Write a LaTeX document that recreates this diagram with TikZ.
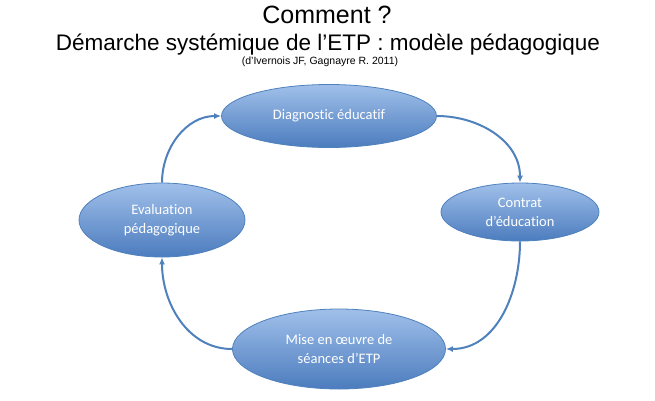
\documentclass[tikz,border=0pt]{standalone}
\usepackage{fontspec}
\setmainfont{Liberation Sans}
\newfontfamily\calibri[Ligatures=CommonOff]{Carlito}
\usetikzlibrary{shapes.geometric,arrows.meta}
\definecolor{etptop}{RGB}{160,192,234}
\definecolor{etpbot}{RGB}{76,124,190}
\definecolor{etpline}{RGB}{79,129,189}

\begin{document}
\begin{tikzpicture}[x=1pt,y=-1pt,>={Latex[length=7pt,width=6pt]},
  etape/.style={ellipse,inner sep=0pt,draw=etpline,line width=0.8pt,
    top color=etptop,bottom color=etpbot,text=white,align=center,
    font=\calibri\fontsize{14.5}{19}\selectfont},
  lien/.style={->,draw=etpline,line width=2pt}]
\useasboundingbox[fill=white] (0,0) rectangle (655,400);
\node (titre) [anchor=base,font=\fontsize{25}{30}\selectfont] at (327,23) {Comment ?};
\node (sous) [anchor=base,font=\fontsize{22.5}{27}\selectfont] at (328,50) {Démarche systémique de l’ETP : modèle pédagogique};
\node (ref) [anchor=base,font=\fontsize{10.5}{12}\selectfont] at (320,64) {(d’Ivernois JF, Gagnayre R. 2011)};
\node (diag) [etape,minimum width=215,minimum height=63] at (329,116) {Diagnostic éducatif};
\node (contrat) [etape,minimum width=158,minimum height=58] at (520,212) {Contrat\\d’éducation};
\node (mise) [etape,minimum width=213,minimum height=80] at (339,349) {Mise en œuvre de\\séances d’ETP};
\node (eval) [etape,minimum width=166,minimum height=74] at (162,220) {Evaluation\\pédagogique};
\draw[lien] (diag.east) to[out=0,in=90] (contrat.north);
\draw[lien] (contrat.south) to[out=-90,in=0] (mise.east);
\draw[lien] (mise.west) to[out=180,in=-90] (eval.south);
\draw[lien] (eval.north) to[out=90,in=180] (diag.west);
\end{tikzpicture}
\end{document}
